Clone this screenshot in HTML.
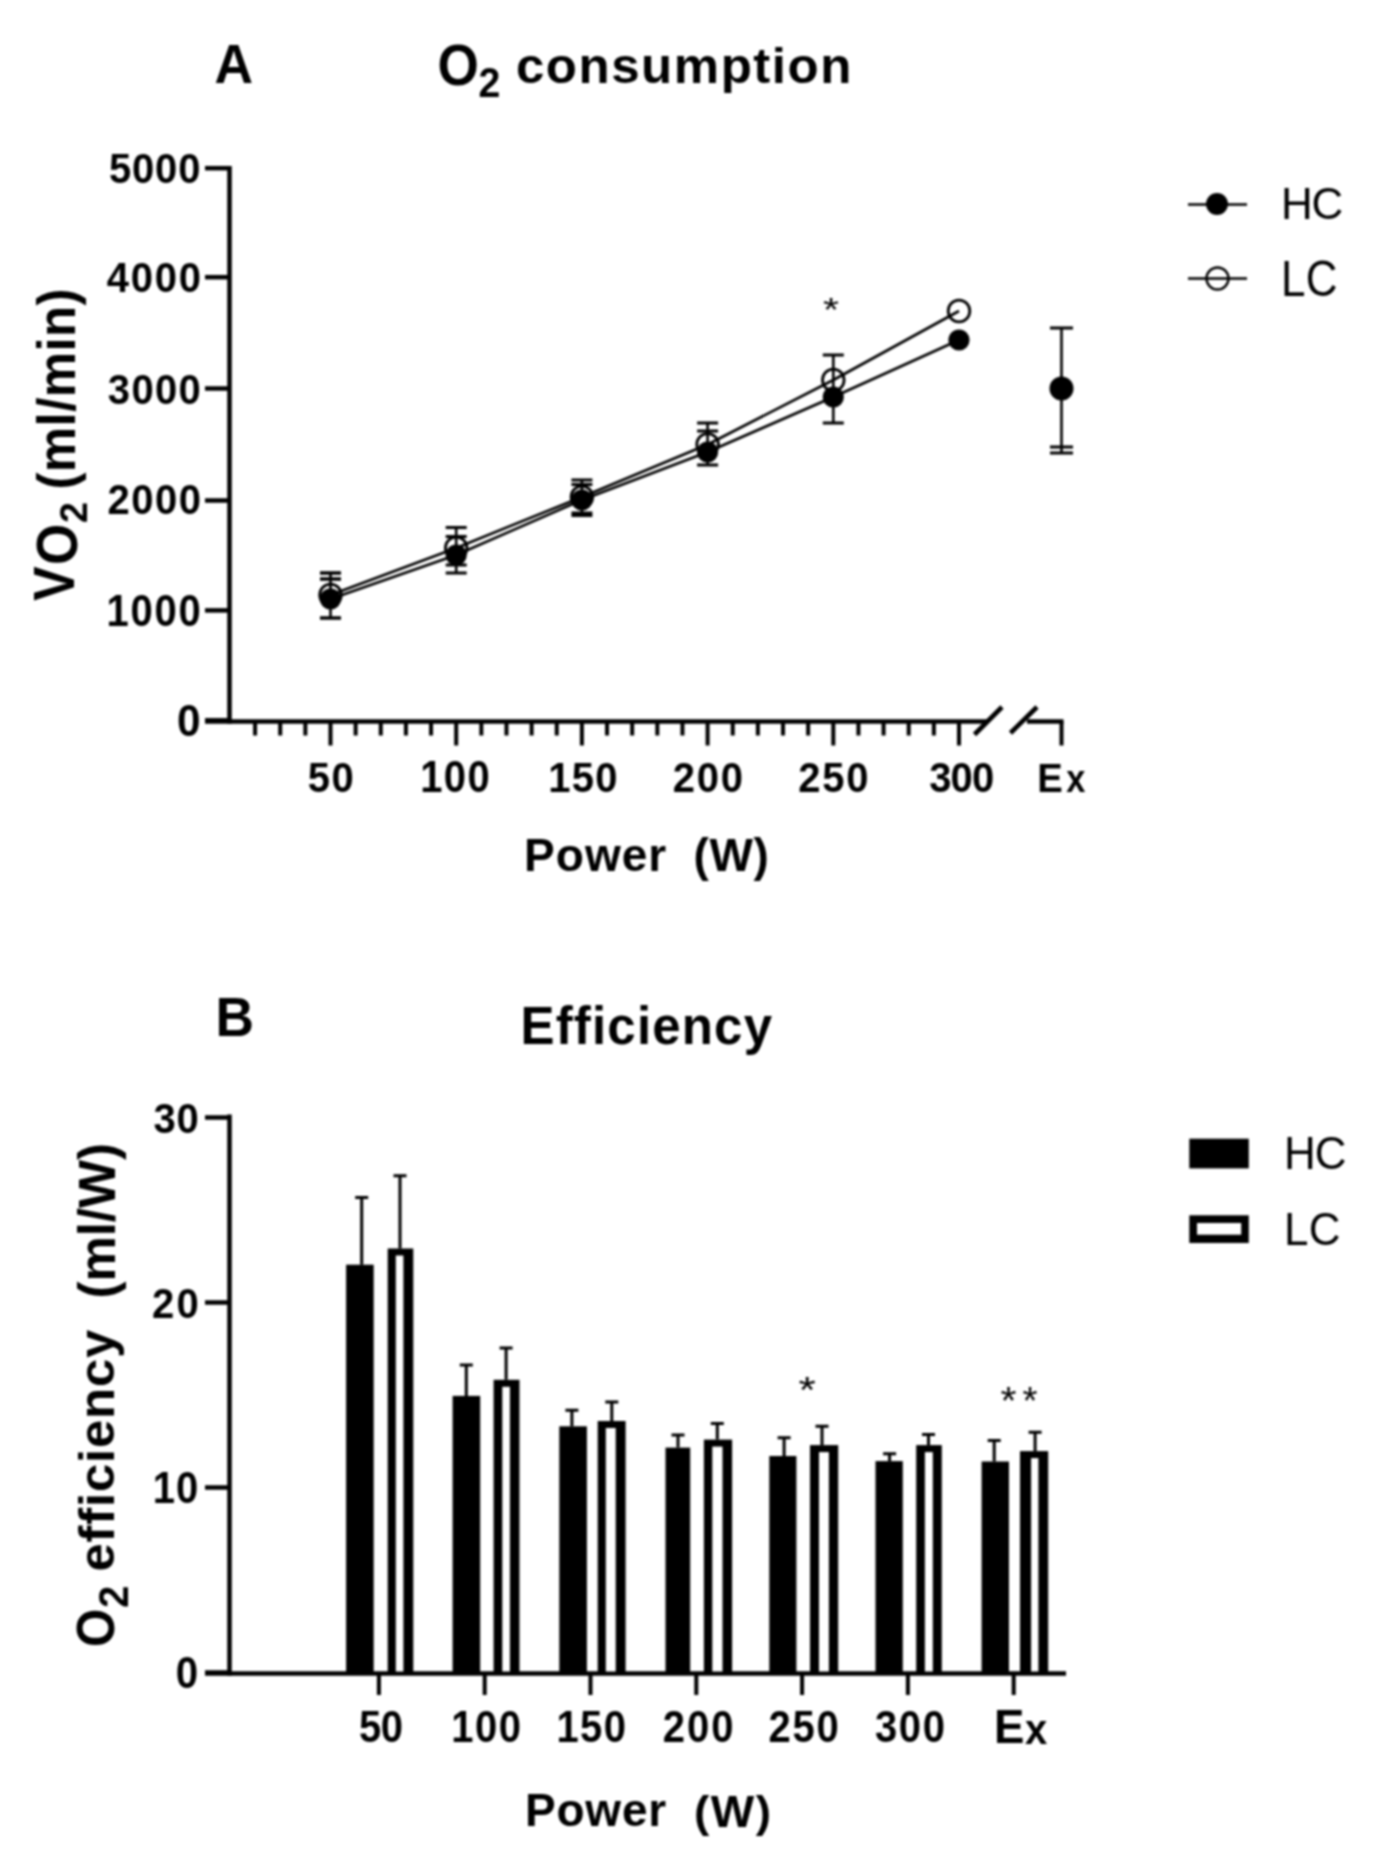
<!DOCTYPE html>
<html><head><meta charset="utf-8"><title>O2 consumption and efficiency</title>
<style>
html,body{margin:0;padding:0;background:#fff;}
body{width:1375px;height:1866px;overflow:hidden;}
svg{display:block;}
.wrap{width:1375px;height:1866px;filter:blur(1px);}
text{font-family:"Liberation Sans", sans-serif;fill:#000;}
</style></head>
<body>
<div class="wrap">
<svg width="1375" height="1866" viewBox="0 0 1375 1866">
<rect width="1375" height="1866" fill="#fff"/>
<path d="M229.5 165.95V723.7" stroke="#000" stroke-width="4.5" fill="none"/>
<path d="M205 720.3H229.5" stroke="#000" stroke-width="4.5"/>
<path d="M205 610.4H229.5" stroke="#000" stroke-width="4.5"/>
<path d="M205 500.5H229.5" stroke="#000" stroke-width="4.5"/>
<path d="M205 388.5H229.5" stroke="#000" stroke-width="4.5"/>
<path d="M205 277.2H229.5" stroke="#000" stroke-width="4.5"/>
<path d="M205 168.2H229.5" stroke="#000" stroke-width="4.5"/>
<path d="M205 721.5H988M1027 721.5H1063.5" stroke="#000" stroke-width="4.5"/>
<path d="M255.08 721.5V735.5M280.22 721.5V735.5M305.36 721.5V735.5M330.5 721.5V745.5M355.64 721.5V735.5M380.78 721.5V735.5M405.92 721.5V735.5M431.06 721.5V735.5M456.2 721.5V745.5M481.34 721.5V735.5M506.48 721.5V735.5M531.62 721.5V735.5M556.76 721.5V735.5M581.9 721.5V745.5M607.04 721.5V735.5M632.18 721.5V735.5M657.32 721.5V735.5M682.46 721.5V735.5M707.6 721.5V745.5M732.74 721.5V735.5M757.88 721.5V735.5M783.02 721.5V735.5M808.16 721.5V735.5M833.3 721.5V745.5M858.44 721.5V735.5M883.58 721.5V735.5M908.72 721.5V735.5M933.86 721.5V735.5M959 721.5V745.5M1061.5 721.5V745.5" stroke="#000" stroke-width="4"/>
<path d="M974.5 734.5L1002 707M1010.5 733L1037 707" stroke="#000" stroke-width="4.6"/>
<polyline points="330.5,595 456.2,548 581.9,497 707.6,444.5 833.3,380 959,311" fill="none" stroke="#000" stroke-width="2.6" stroke-linejoin="round"/>
<polyline points="330.5,599 456.2,555 581.9,500 707.6,452 833.3,397 959,340" fill="none" stroke="#000" stroke-width="2.6" stroke-linejoin="round"/>
<path d="M330.5 573V618" stroke="#000" stroke-width="2.6"/>
<path d="M320 573H341M320 579H341M320 618H341" stroke="#000" stroke-width="3.4"/>
<path d="M456.2 527V573" stroke="#000" stroke-width="2.6"/>
<path d="M445.7 527.5H466.7M445.7 536.5H466.7M445.7 565H466.7M445.7 573H466.7" stroke="#000" stroke-width="3"/>
<path d="M581.9 480V515" stroke="#000" stroke-width="2.6"/>
<path d="M571.4 480H592.4M571.4 484.5H592.4M571.4 513H592.4M571.4 515.5H592.4" stroke="#000" stroke-width="3"/>
<path d="M707.6 423V465" stroke="#000" stroke-width="2.6"/>
<path d="M697.1 423H718.1M697.1 431H718.1M697.1 465H718.1" stroke="#000" stroke-width="3"/>
<path d="M833.3 355V423" stroke="#000" stroke-width="2.6"/>
<path d="M822.8 355H843.8M822.8 423H843.8" stroke="#000" stroke-width="3"/>
<path d="M1061.5 328V453" stroke="#000" stroke-width="2.6"/>
<path d="M1050 328H1073M1050 447H1073M1050 453H1073" stroke="#000" stroke-width="3"/>
<circle cx="330.5" cy="595" r="10.8" fill="none" stroke="#000" stroke-width="2.8"/>
<circle cx="456.2" cy="548" r="10.8" fill="none" stroke="#000" stroke-width="2.8"/>
<circle cx="581.9" cy="497" r="10.8" fill="none" stroke="#000" stroke-width="2.8"/>
<circle cx="707.6" cy="444.5" r="10.8" fill="none" stroke="#000" stroke-width="2.8"/>
<circle cx="833.3" cy="380" r="10.8" fill="none" stroke="#000" stroke-width="2.8"/>
<circle cx="959" cy="311" r="10.8" fill="none" stroke="#000" stroke-width="2.8"/>
<circle cx="330.5" cy="599" r="10.6" fill="#000"/>
<circle cx="456.2" cy="555" r="10.6" fill="#000"/>
<circle cx="581.9" cy="500" r="10.6" fill="#000"/>
<circle cx="707.6" cy="452" r="10.6" fill="#000"/>
<circle cx="833.3" cy="397" r="10.6" fill="#000"/>
<circle cx="959" cy="340" r="10.6" fill="#000"/>
<circle cx="1061.5" cy="388.5" r="12" fill="#000"/>
<path d="M1188 204.5H1247M1188 278.5H1247" stroke="#000" stroke-width="2.4"/>
<circle cx="1217" cy="204" r="11" fill="#000"/>
<circle cx="1217.5" cy="278.5" r="11" fill="none" stroke="#000" stroke-width="2.4"/>
<path d="M229.5 1114.5V1675.7" stroke="#000" stroke-width="4.5" fill="none"/>
<path d="M205 1672.5H229.5" stroke="#000" stroke-width="4.5"/>
<path d="M205 1487.5H229.5" stroke="#000" stroke-width="4.5"/>
<path d="M205 1302.5H229.5" stroke="#000" stroke-width="4.5"/>
<path d="M205 1117.5H229.5" stroke="#000" stroke-width="4.5"/>
<path d="M205 1673.5H1066" stroke="#000" stroke-width="4.5"/>
<path d="M378.9 1673.5V1695M484.7 1673.5V1695M590.5 1673.5V1695M696.3 1673.5V1695M802.1 1673.5V1695M907.9 1673.5V1695M1013.7 1673.5V1695" stroke="#000" stroke-width="4"/>
<path d="M361.7 1197.5V1264.7M355.2 1197.5H368.2" stroke="#000" stroke-width="3"/>
<rect x="346.1" y="1264.7" width="27.6" height="408.8"/>
<path d="M400 1175.8V1248.5M393.5 1175.8H406.5" stroke="#000" stroke-width="3"/>
<rect x="387.7" y="1248.5" width="25.6" height="425"/>
<rect x="395.8" y="1255.5" width="7.6" height="416" fill="#fff"/>
<path d="M466.3 1365V1395.9M459.8 1365H472.8" stroke="#000" stroke-width="3"/>
<rect x="452.6" y="1395.9" width="27.6" height="277.6"/>
<path d="M506.1 1348.1V1379.8M499.6 1348.1H512.6" stroke="#000" stroke-width="3"/>
<rect x="493.6" y="1379.8" width="25.9" height="293.7"/>
<rect x="502.3" y="1386.8" width="7.6" height="284.7" fill="#fff"/>
<path d="M571.9 1410.3V1426.3M565.4 1410.3H578.4" stroke="#000" stroke-width="3"/>
<rect x="559.3" y="1426.3" width="27.6" height="247.2"/>
<path d="M611.8 1402.1V1421M605.3 1402.1H618.3" stroke="#000" stroke-width="3"/>
<rect x="597.7" y="1421" width="27.9" height="252.5"/>
<rect x="605.8" y="1428" width="9.9" height="243.5" fill="#fff"/>
<path d="M678 1435V1447.6M671.5 1435H684.5" stroke="#000" stroke-width="3"/>
<rect x="665.5" y="1447.6" width="24.7" height="225.9"/>
<path d="M717.3 1423.6V1439.6M710.8 1423.6H723.8" stroke="#000" stroke-width="3"/>
<rect x="703.9" y="1439.6" width="28.2" height="233.9"/>
<rect x="712.3" y="1446.6" width="10.2" height="224.9" fill="#fff"/>
<path d="M784.1 1437.8V1456M777.6 1437.8H790.6" stroke="#000" stroke-width="3"/>
<rect x="769.3" y="1456" width="27.1" height="217.5"/>
<path d="M822 1426.2V1445.1M815.5 1426.2H828.5" stroke="#000" stroke-width="3"/>
<rect x="810" y="1445.1" width="28.2" height="228.4"/>
<rect x="819" y="1452.1" width="9.9" height="219.4" fill="#fff"/>
<path d="M889.6 1453.8V1461.1M883.1 1453.8H896.1" stroke="#000" stroke-width="3"/>
<rect x="875.5" y="1461.1" width="27.3" height="212.4"/>
<path d="M928.5 1434.6V1445.1M922 1434.6H935" stroke="#000" stroke-width="3"/>
<rect x="916.2" y="1445.1" width="25.6" height="228.4"/>
<rect x="924.9" y="1452.1" width="7.9" height="219.4" fill="#fff"/>
<path d="M994.2 1440.4V1461.5M987.7 1440.4H1000.7" stroke="#000" stroke-width="3"/>
<rect x="981.6" y="1461.5" width="27.4" height="212"/>
<path d="M1035.1 1432.2V1451.1M1028.6 1432.2H1041.6" stroke="#000" stroke-width="3"/>
<rect x="1020" y="1451.1" width="28.2" height="222.4"/>
<rect x="1031.1" y="1458.1" width="7.3" height="213.4" fill="#fff"/>
<rect x="1189.3" y="1138.7" width="59.5" height="29.7"/>
<rect x="1189.3" y="1215.3" width="59.5" height="27.7"/>
<rect x="1197" y="1223" width="44.2" height="11.7" fill="#fff"/>
<text id="tA" transform="translate(214.5,82.99) scale(1,1.0555)" font-size="53.42" font-weight="bold">A</text>
<text id="tO" transform="translate(437.5,85.02) scale(1,1.0785)" font-size="53.19" font-weight="bold">O</text>
<text id="t2a" transform="translate(478.5,96.51) scale(1,1.0842)" font-size="39.26" font-weight="bold">2</text>
<text id="tcons" transform="translate(516,82.6) scale(1,0.9707)" font-size="51" font-weight="bold" textLength="335.32" lengthAdjust="spacing">consumption</text>
<text id="ya5000" transform="translate(109,182.57) scale(1,1.0858)" font-size="40" font-weight="bold" textLength="91.39" lengthAdjust="spacing">5000</text>
<text id="ya4000" transform="translate(106.8,291.91) scale(1,1.0396)" font-size="40" font-weight="bold" textLength="94.08" lengthAdjust="spacing">4000</text>
<text id="ya3000" transform="translate(107.8,404.15) scale(1,1.0838)" font-size="40" font-weight="bold" textLength="93.01" lengthAdjust="spacing">3000</text>
<text id="ya2000" transform="translate(107.4,514.39) scale(1,1.0497)" font-size="40" font-weight="bold" textLength="93.73" lengthAdjust="spacing">2000</text>
<text id="ya1000" transform="translate(106.4,626.1) scale(1,1.1219)" font-size="40" font-weight="bold" textLength="94.27" lengthAdjust="spacing">1000</text>
<text id="ya0" transform="translate(177,736.19) scale(1,1.0397)" font-size="42.41" font-weight="bold">0</text>
<text id="xa50" transform="translate(307.8,792.16) scale(1,1.0619)" font-size="40" font-weight="bold" textLength="45.88" lengthAdjust="spacing">50</text>
<text id="xa100" transform="translate(420.2,791.74) scale(1,1.1188)" font-size="40" font-weight="bold" textLength="69.5" lengthAdjust="spacing">100</text>
<text id="xa150" transform="translate(548.2,791.93) scale(1,1.0577)" font-size="40" font-weight="bold" textLength="69.4" lengthAdjust="spacing">150</text>
<text id="xa200" transform="translate(672.8,791.95) scale(1,1.0771)" font-size="40" font-weight="bold" textLength="70.28" lengthAdjust="spacing">200</text>
<text id="xa250" transform="translate(798.2,791.95) scale(1,1.0771)" font-size="40" font-weight="bold" textLength="70.26" lengthAdjust="spacing">250</text>
<text id="xa300" transform="translate(929.2,791.95) scale(1,1.0771)" font-size="40" font-weight="bold" textLength="65.1" lengthAdjust="spacing">300</text>
<text id="xaE" transform="translate(1037.2,791.95) scale(1,1.0830)" font-size="38.29" font-weight="bold">E</text>
<text id="xax" transform="translate(1066.2,791.96) scale(1,1.1261)" font-size="34.42" font-weight="bold">x</text>
<text id="pwA" transform="translate(524,870.5) scale(1,0.9854)" font-size="46" font-weight="bold" textLength="142.27" lengthAdjust="spacing">Power</text>
<text id="wA" transform="translate(693.5,871.29) scale(1,0.9924)" font-size="46" font-weight="bold" textLength="75.44" lengthAdjust="spacing">(W)</text>
<text id="hcA" transform="translate(1281,218.97) scale(1,1.0192)" font-size="44" textLength="62.16" lengthAdjust="spacing">HC</text>
<text id="lcA" transform="translate(1281,295.53) scale(1,1.1408)" font-size="44" textLength="56.6" lengthAdjust="spacing">LC</text>
<text id="astA" transform="translate(823,320.81) scale(1,0.8134)" font-size="41.31">*</text>
<text id="vV" transform="translate(73.83,600.8) rotate(-90) scale(1,1.1026)" font-size="51.37" font-weight="bold">V</text>
<text id="vO" transform="translate(76.62,565) rotate(-90) scale(1,1.0983)" font-size="53" font-weight="bold">O</text>
<text id="v2" transform="translate(86.5,523) rotate(-90) scale(1,1.0038)" font-size="37.77" font-weight="bold">2</text>
<text id="mlmin" transform="translate(75.12,489.5) rotate(-90) scale(1,1.0445)" font-size="51" font-weight="bold" textLength="200.96" lengthAdjust="spacing">(ml/min)</text>
<text id="tB" transform="translate(215.5,1035.5) scale(1,1.0576)" font-size="53.31" font-weight="bold">B</text>
<text id="teff" transform="translate(520.5,1044.46) scale(1,1.0661)" font-size="51" font-weight="bold" textLength="251.51" lengthAdjust="spacing">Efficiency</text>
<text id="yb30" transform="translate(153.4,1132.99) scale(1,1.0664)" font-size="40" font-weight="bold" textLength="45.44" lengthAdjust="spacing">30</text>
<text id="yb20" transform="translate(152,1318.21) scale(1,1.0664)" font-size="40" font-weight="bold" textLength="46.64" lengthAdjust="spacing">20</text>
<text id="yb10" transform="translate(152.8,1502.78) scale(1,1.1071)" font-size="40" font-weight="bold" textLength="45.44" lengthAdjust="spacing">10</text>
<text id="yb0" transform="translate(175.8,1688.01) scale(1,1.0888)" font-size="40.23" font-weight="bold">0</text>
<text id="xb50" transform="translate(359,1741.53) scale(1,1.1232)" font-size="40" font-weight="bold" textLength="44.04" lengthAdjust="spacing">50</text>
<text id="xb100" transform="translate(451.2,1741.53) scale(1,1.1232)" font-size="40" font-weight="bold" textLength="69.8" lengthAdjust="spacing">100</text>
<text id="xb150" transform="translate(556.4,1741.53) scale(1,1.1232)" font-size="40" font-weight="bold" textLength="69.64" lengthAdjust="spacing">150</text>
<text id="xb200" transform="translate(662.8,1741.53) scale(1,1.1232)" font-size="40" font-weight="bold" textLength="70.6" lengthAdjust="spacing">200</text>
<text id="xb250" transform="translate(768.6,1741.53) scale(1,1.1232)" font-size="40" font-weight="bold" textLength="70.14" lengthAdjust="spacing">250</text>
<text id="xb300" transform="translate(875,1741.53) scale(1,1.1232)" font-size="40" font-weight="bold" textLength="69.96" lengthAdjust="spacing">300</text>
<text id="xbE" transform="translate(994,1743.49) scale(1,1.0442)" font-size="45.6" font-weight="bold">E</text>
<text id="xbx" transform="translate(1025,1743.54) scale(1,1.0725)" font-size="40" font-weight="bold">x</text>
<text id="pwB" transform="translate(524.9,1826.29) scale(1,1.0110)" font-size="46" font-weight="bold" textLength="141.29" lengthAdjust="spacing">Power</text>
<text id="wB" transform="translate(694,1826.59) scale(1,0.9677)" font-size="46" font-weight="bold" textLength="77.1" lengthAdjust="spacing">(W)</text>
<text id="hcB" transform="translate(1284,1168.5) scale(1,1.0354)" font-size="44" textLength="62.64" lengthAdjust="spacing">HC</text>
<text id="lcB" transform="translate(1284,1244.99) scale(1,1.0675)" font-size="44" textLength="56.44" lengthAdjust="spacing">LC</text>
<text id="astB" transform="translate(798.5,1402.64) scale(1,0.8497)" font-size="44.49">*</text>
<text id="astB2a" transform="translate(1000.6,1414.4) scale(1,0.9348)" font-size="41.18">*</text>
<text id="astB2b" transform="translate(1022.6,1414.4) scale(1,0.9983)" font-size="38.56">*</text>
<text id="bO" transform="translate(113.99,1647) rotate(-90) scale(1,1.0882)" font-size="49.11" font-weight="bold">O</text>
<text id="b2" transform="translate(128,1608) rotate(-90) scale(1,1.0475)" font-size="40.19" font-weight="bold">2</text>
<text id="beff" transform="translate(114.33,1571.5) rotate(-90) scale(1,0.9918)" font-size="51" font-weight="bold" textLength="241.88" lengthAdjust="spacing">efficiency</text>
<text id="bmlw" transform="translate(115.04,1298.5) rotate(-90) scale(1,1.0230)" font-size="51" font-weight="bold" textLength="155.48" lengthAdjust="spacing">(ml/W)</text>
</svg>
</div>
</body></html>
